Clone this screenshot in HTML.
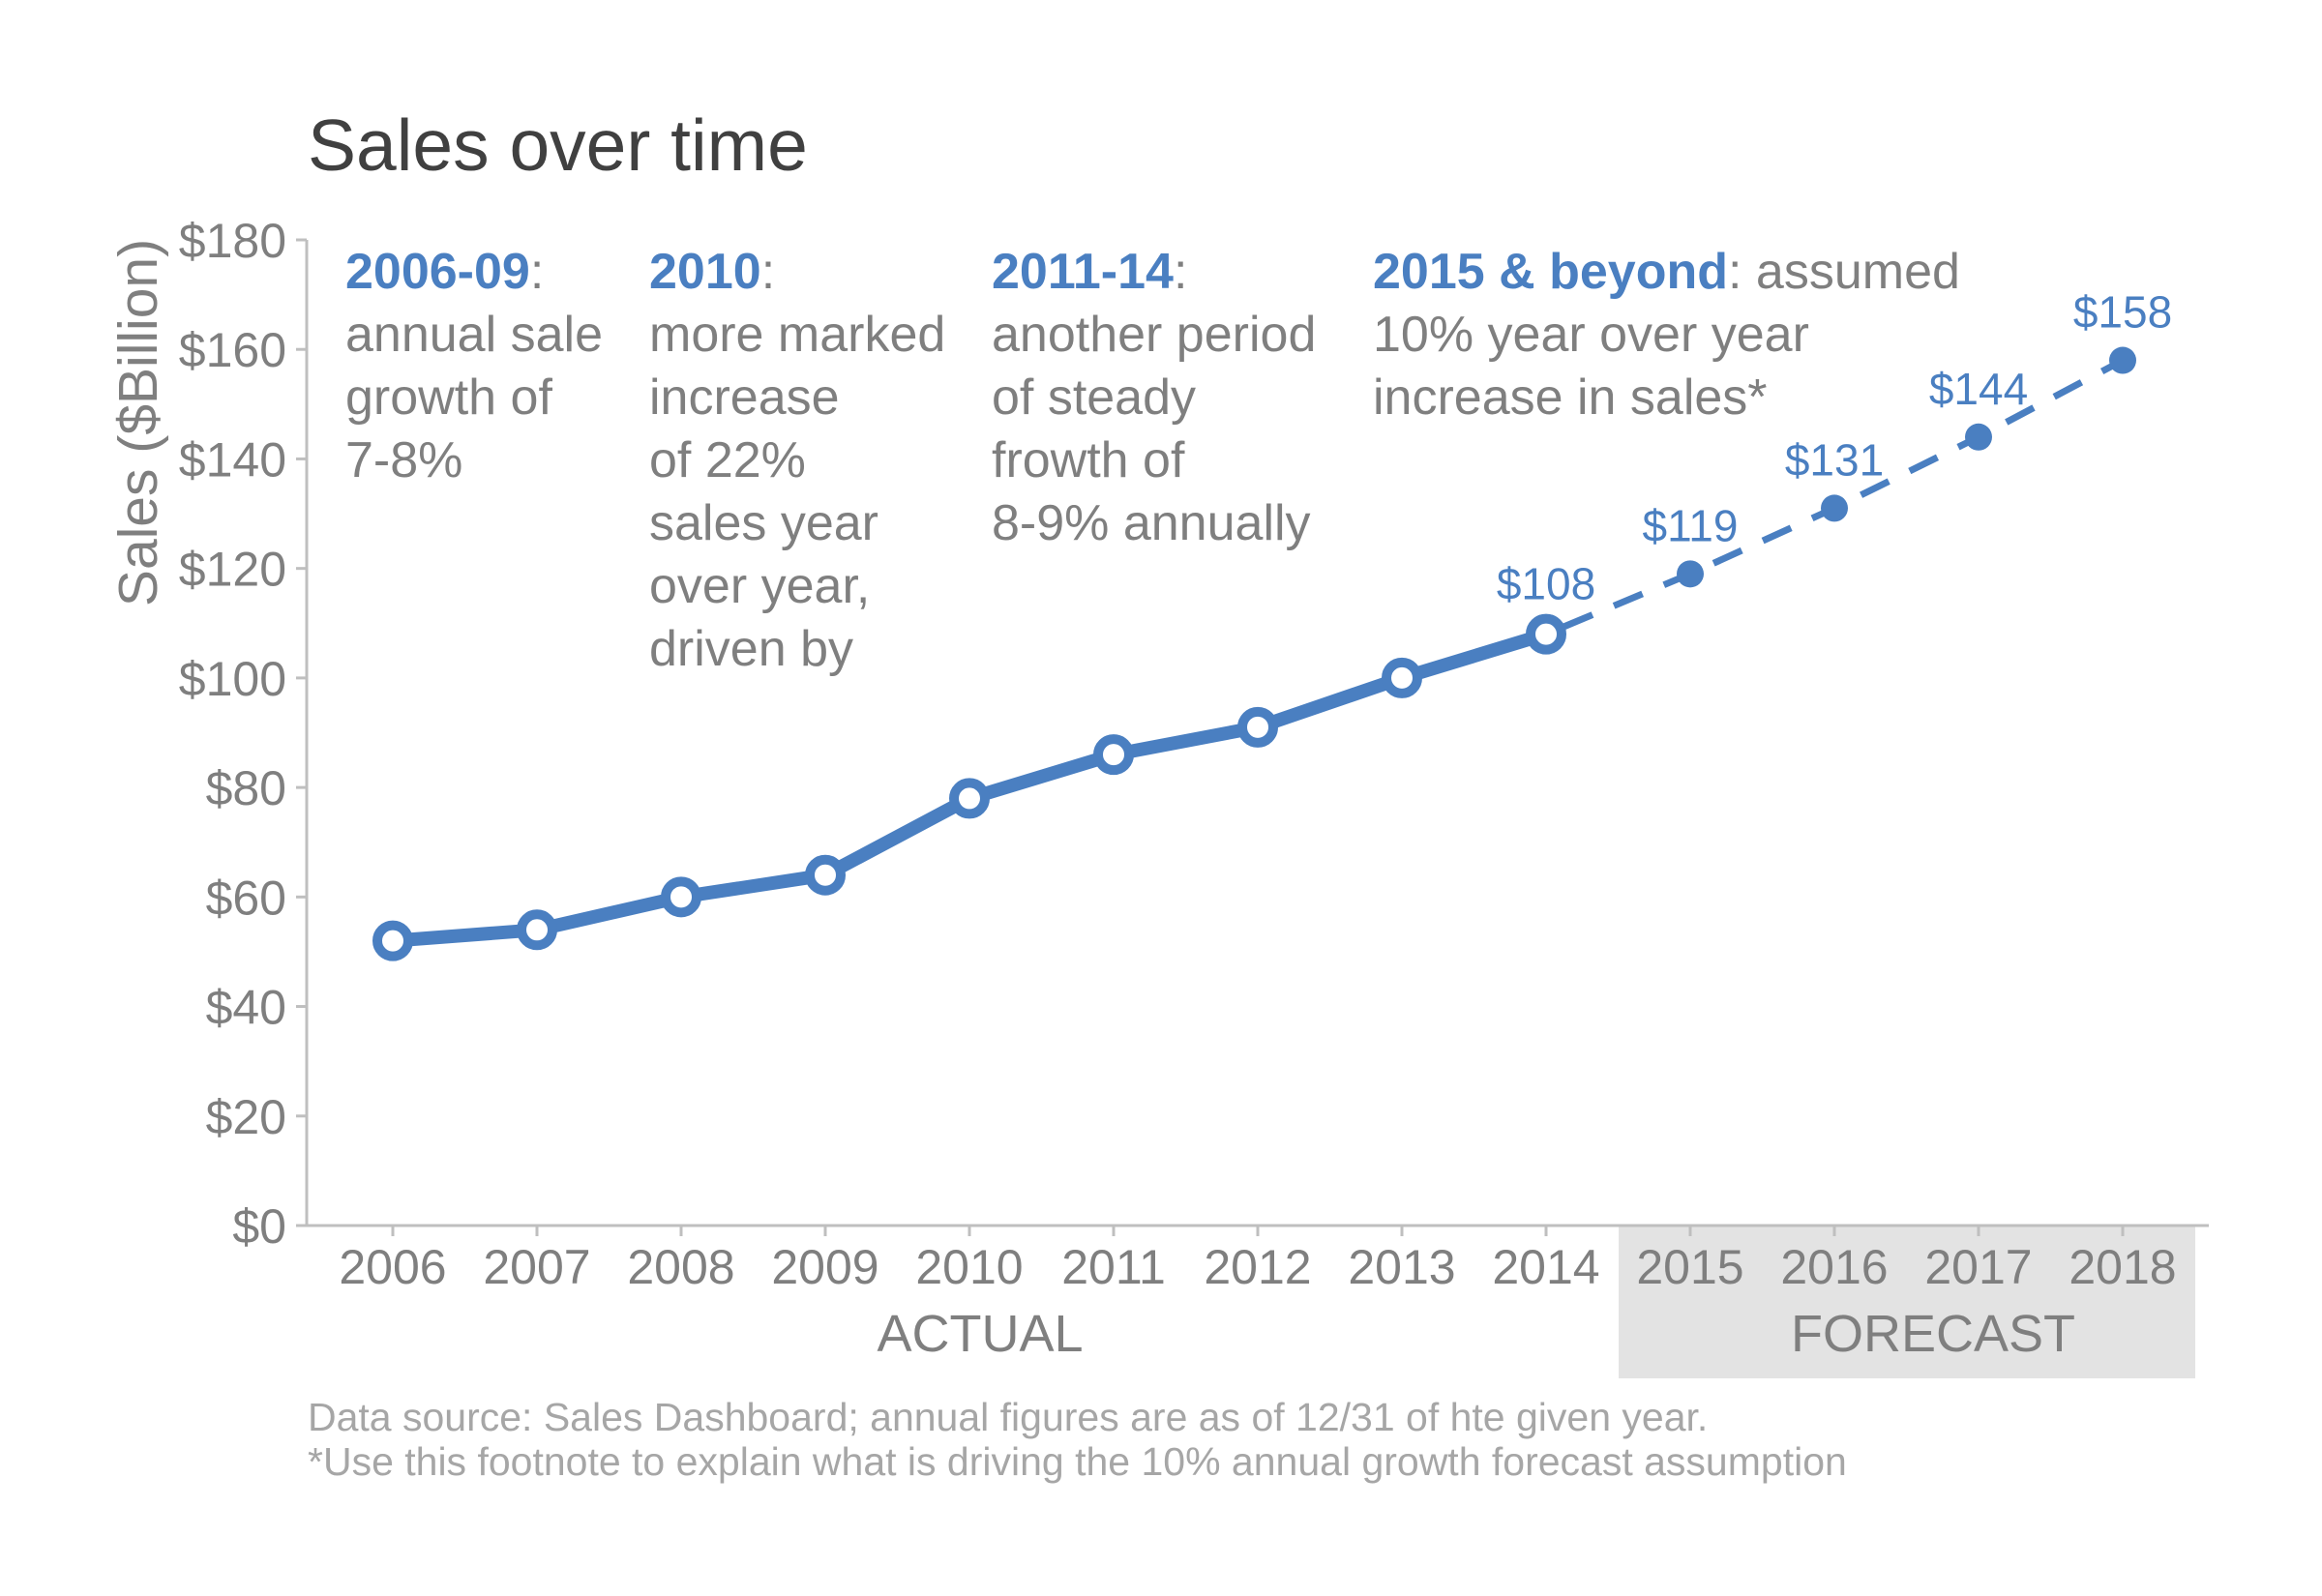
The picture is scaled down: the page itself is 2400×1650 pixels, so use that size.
<!DOCTYPE html>
<html><head><meta charset="utf-8"><style>
html,body{margin:0;padding:0;background:#fff;}
svg{display:block;font-family:"Liberation Sans",Arial,sans-serif;}
</style></head><body>
<svg id="chart" width="2400" height="1650" viewBox="0 0 2400 1650" xmlns="http://www.w3.org/2000/svg">
<text x="318" y="176" font-size="75" fill="#404040">Sales over time</text>
<rect x="1673" y="1268" width="596" height="157" fill="#e3e3e3"/>
<g id="yaxis"></g>
<g id="xaxis"></g>
<text transform="translate(162,437) rotate(-90)" text-anchor="middle" font-size="57" fill="#7f7f7f">Sales ($Billion)</text>
<text x="1013" y="1397" text-anchor="middle" font-size="54" fill="#7f7f7f">ACTUAL</text>
<text x="1998" y="1397" text-anchor="middle" font-size="54" fill="#7f7f7f">FORECAST</text>
<g font-size="52" fill="#7f7f7f">
<text x="357" y="298"><tspan font-weight="bold" fill="#4a7fc1">2006-09</tspan><tspan>:</tspan><tspan x="357" dy="65">annual sale</tspan><tspan x="357" dy="65">growth of</tspan><tspan x="357" dy="65">7-8%</tspan></text>
<text x="671" y="298"><tspan font-weight="bold" fill="#4a7fc1">2010</tspan><tspan>:</tspan><tspan x="671" dy="65">more marked</tspan><tspan x="671" dy="65">increase</tspan><tspan x="671" dy="65">of 22%</tspan><tspan x="671" dy="65">sales year</tspan><tspan x="671" dy="65">over year,</tspan><tspan x="671" dy="65">driven by</tspan></text>
<text x="1025" y="298"><tspan font-weight="bold" fill="#4a7fc1">2011-14</tspan><tspan>:</tspan><tspan x="1025" dy="65">another period</tspan><tspan x="1025" dy="65">of steady</tspan><tspan x="1025" dy="65">frowth of</tspan><tspan x="1025" dy="65">8-9% annually</tspan></text>
<text x="1419" y="298"><tspan font-weight="bold" fill="#4a7fc1">2015 &amp; beyond</tspan><tspan>: assumed</tspan><tspan x="1419" dy="65">10% year over year</tspan><tspan x="1419" dy="65">increase in sales*</tspan></text>
</g>
<g id="series"></g>
<text x="318" y="1479" font-size="41" fill="#a6a6a6">Data source: Sales Dashboard; annual figures are as of 12/31 of hte given year.</text>
<text x="318" y="1525" font-size="41" fill="#a6a6a6">*Use this footnote to explain what is driving the 10% annual growth forecast assumption</text>
</svg>
<script>
const years = ["2006","2007","2008","2009","2010","2011","2012","2013","2014","2015","2016","2017","2018"];
const actualValues = [52,54,60,64,78,86,91,100,108];
const forecastValues = [119,131,144,158];
const forecastLabels = ["$119","$131","$144","$158"];
const yTicks = [0,20,40,60,80,100,120,140,160,180];
const yTickLabels = ["$0","$20","$40","$60","$80","$100","$120","$140","$160","$180"];

const NS="http://www.w3.org/2000/svg";
const X0=406, XSTEP=149, Y0=1267, Y1=248, YMAX=180, AX=317;
function xs(i){return X0+i*XSTEP;}
function ys(v){return Y0-(v/YMAX)*(Y0-Y1);}
function mk(tag,attrs,parent){const e=document.createElementNS(NS,tag);for(const k in attrs)e.setAttribute(k,attrs[k]);parent.appendChild(e);return e;}

const yg=document.getElementById('yaxis');
let ax=mk('line',{x1:AX,y1:Y1,x2:AX,y2:Y0,stroke:'#bfbfbf','stroke-width':3},yg);


yTicks.forEach((t,i)=>{
  const tk=mk('line',{x1:AX-11,y1:ys(t),x2:AX,y2:ys(t),stroke:'#bfbfbf','stroke-width':3},yg);
  
  
  const tl=mk('text',{x:296,y:ys(t)+18,'text-anchor':'end','font-size':50,fill:'#7f7f7f'},yg);
  tl.textContent=yTickLabels[i];
  
  
});
const xg=document.getElementById('xaxis');
let xl=mk('line',{x1:306,y1:Y0,x2:2283,y2:Y0,stroke:'#bfbfbf','stroke-width':3},xg);


years.forEach((y,i)=>{
  const tk=mk('line',{x1:xs(i),y1:Y0,x2:xs(i),y2:Y0+11,stroke:'#bfbfbf','stroke-width':3},xg);
  
  
  const tl=mk('text',{x:xs(i),y:1327,'text-anchor':'middle','font-size':50,fill:'#7f7f7f'},xg);
  tl.textContent=y;
  
  
});

const sg=document.getElementById('series');
const blue='#4a7fc1';
const last=actualValues.length-1;
let fpts=[xs(last)+','+ys(actualValues[last])];
forecastValues.forEach((v,i)=>fpts.push(xs(last+1+i)+','+ys(v)));
const fl=mk('polyline',{points:fpts.join(' '),fill:'none',stroke:blue,'stroke-width':7,'stroke-dasharray':'32 24','stroke-dashoffset':'-20'},sg);


const al=mk('polyline',{points:actualValues.map((v,i)=>xs(i)+','+ys(v)).join(' '),fill:'none',stroke:blue,'stroke-width':14,'stroke-linejoin':'round'},sg);


actualValues.forEach((v,i)=>{
  const c=mk('circle',{cx:xs(i),cy:ys(v),r:16,fill:'#fff',stroke:blue,'stroke-width':10},sg);
  
  
});
const lt=mk('text',{x:xs(last),y:ys(actualValues[last])-36,'text-anchor':'middle','font-size':46,fill:blue},sg);
lt.textContent='$'+actualValues[last];


forecastValues.forEach((v,i)=>{
  const c=mk('circle',{cx:xs(last+1+i),cy:ys(v),r:14,fill:blue},sg);
  
  
  const t=mk('text',{x:xs(last+1+i),y:ys(v)-34,'text-anchor':'middle','font-size':46,fill:blue},sg);
  t.textContent=forecastLabels[i];
  
  
});
</script>
</body></html>
